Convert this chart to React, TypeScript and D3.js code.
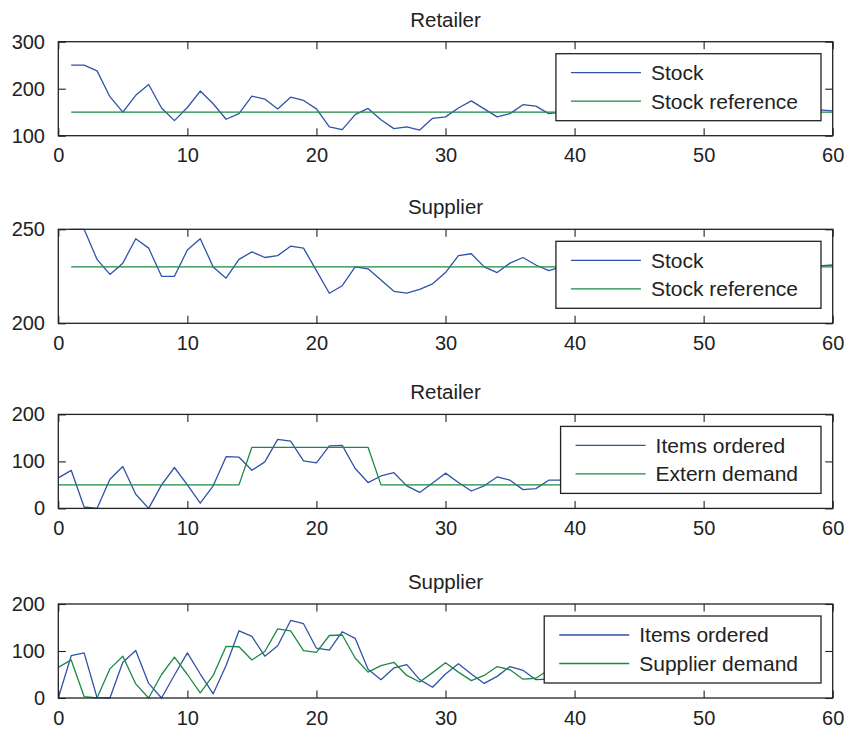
import * as d3 from 'd3';
import React, { useEffect, useRef } from 'react';

// time steps
const stepsFrom1 = d3.range(1, 61);
const stepsFrom0 = d3.range(0, 60);

// Retailer stock (steps 1..60)
const retailerStock = [
  250, 250, 238, 183, 150, 186, 209, 159, 132, 160, 195, 168, 135, 147, 184, 178, 157, 182, 175, 157,
  119, 113, 145, 158, 134, 115, 119, 112, 137, 140, 159, 174, 157, 140, 147, 166, 163, 147, 150, 155,
  157, 152, 147, 149, 154, 156, 151, 148, 150, 154, 153, 150, 149, 151, 153, 152, 150, 152, 155, 153,
];
const retailerRef = [
  150, 150, 150, 150, 150, 150, 150, 150, 150, 150, 150, 150, 150, 150, 150, 150, 150, 150, 150, 150,
  150, 150, 150, 150, 150, 150, 150, 150, 150, 150, 150, 150, 150, 150, 150, 150, 150, 150, 150, 150,
  150, 150, 150, 150, 150, 150, 150, 150, 150, 150, 150, 150, 150, 150, 150, 150, 150, 150, 150, 150,
];

// Supplier stock (steps 1..60)
const supplierStock = [
  250, 250, 234, 226, 232, 245, 240, 225, 225, 239, 245, 230, 224, 234, 238, 235, 236, 241, 240, 228,
  216, 220, 230, 229, 223, 217, 216, 218, 221, 227, 236, 237, 230, 227, 232, 235, 231, 228, 230, 233,
  234, 231, 228, 229, 232, 233, 231, 229, 230, 232, 232, 230, 229, 230, 231, 231, 230, 230, 230.5, 231,
];
const supplierRef = [
  230, 230, 230, 230, 230, 230, 230, 230, 230, 230, 230, 230, 230, 230, 230, 230, 230, 230, 230, 230,
  230, 230, 230, 230, 230, 230, 230, 230, 230, 230, 230, 230, 230, 230, 230, 230, 230, 230, 230, 230,
  230, 230, 230, 230, 230, 230, 230, 230, 230, 230, 230, 230, 230, 230, 230, 230, 230, 230, 230, 230,
];

// Retailer orders (steps 0..59)
const retailerOrders = [
  65, 81, 3, 0, 62, 89, 30, 0, 50, 87, 50, 11, 48, 110, 109, 81, 99, 147, 143, 101,
  97, 133, 134, 85, 55, 69, 76, 48, 34, 54, 75, 55, 37, 48, 67, 60, 40, 42, 60, 60,
  55, 48, 45, 52, 58, 56, 50, 47, 49, 53, 54, 51, 49, 49, 51, 52, 51, 50, 49, 50,
];
const externDemand = [
  50, 50, 50, 50, 50, 50, 50, 50, 50, 50, 50, 50, 50, 50, 50, 130, 130, 130, 130, 130,
  130, 130, 130, 130, 130, 50, 50, 50, 50, 50, 50, 50, 50, 50, 50, 50, 50, 50, 50, 50,
  50, 50, 50, 50, 50, 50, 50, 50, 50, 50, 50, 50, 50, 50, 50, 50, 50, 50, 50, 50,
];

// Supplier orders (steps 0..59); supplier demand equals the retailer's orders
const supplierOrders = [
  0, 90, 96, 1, 0, 76, 101, 31, 0, 49, 96, 51, 9, 69, 143, 131, 89, 111, 165, 158,
  106, 102, 141, 127, 61, 39, 64, 71, 39, 23, 51, 73, 51, 31, 46, 67, 59, 39, 40, 58,
  64, 54, 43, 46, 57, 60, 53, 46, 47, 53, 55, 51, 48, 49, 52, 52, 50, 49, 50, 51,
];
const supplierDemand = retailerOrders;

const xTicks = [0, 10, 20, 30, 40, 50, 60];

const BLUE = '#3152a8';
const GREEN = '#1b8a44';
const INK = '#222';

interface Series {
  label: string;
  color: string;
  xs: number[];
  ys: number[];
}

interface Panel {
  title: string;
  yDomain: [number, number];
  yTicks: number[];
  series: Series[];
}

const panels: Panel[] = [
  {
    title: 'Retailer',
    yDomain: [100, 300],
    yTicks: [100, 200, 300],
    series: [
      { label: 'Stock', color: BLUE, xs: stepsFrom1, ys: retailerStock },
      { label: 'Stock reference', color: GREEN, xs: stepsFrom1, ys: retailerRef },
    ],
  },
  {
    title: 'Supplier',
    yDomain: [200, 250],
    yTicks: [200, 250],
    series: [
      { label: 'Stock', color: BLUE, xs: stepsFrom1, ys: supplierStock },
      { label: 'Stock reference', color: GREEN, xs: stepsFrom1, ys: supplierRef },
    ],
  },
  {
    title: 'Retailer',
    yDomain: [0, 200],
    yTicks: [0, 100, 200],
    series: [
      { label: 'Items ordered', color: BLUE, xs: stepsFrom0, ys: retailerOrders },
      { label: 'Extern demand', color: GREEN, xs: stepsFrom0, ys: externDemand },
    ],
  },
  {
    title: 'Supplier',
    yDomain: [0, 200],
    yTicks: [0, 100, 200],
    series: [
      { label: 'Items ordered', color: BLUE, xs: stepsFrom0, ys: supplierOrders },
      { label: 'Supplier demand', color: GREEN, xs: stepsFrom0, ys: supplierDemand },
    ],
  },
];

const width = 848;
const height = 729;
const plotLeft = 58.3;
const plotRight = 832.7;
const panelTops = [41.7, 229.3, 414.4, 604];
const panelH = 94;
const FONT = '"Liberation Sans", Arial, Helvetica, sans-serif';

const App: React.FC = () => {
  const ref = useRef<SVGSVGElement>(null);

  useEffect(() => {
    if (!ref.current) return;
    const svg = d3.select(ref.current);
    svg.selectAll('*').remove();

    const x = d3.scaleLinear().domain([0, 60]).range([plotLeft, plotRight]);
    const tickLen = 7.5;

    panels.forEach((p, i) => {
      const top = panelTops[i];
      const bottom = top + panelH;
      const y = d3.scaleLinear().domain(p.yDomain).range([bottom, top]);
      const g = svg.append('g');

      const clipId = `clip-${i}`;
      g.append('clipPath')
        .attr('id', clipId)
        .append('rect')
        .attr('x', plotLeft)
        .attr('y', top - 1)
        .attr('width', plotRight - plotLeft)
        .attr('height', panelH + 2);

      g.append('text')
        .attr('x', (plotLeft + plotRight) / 2)
        .attr('y', top - 15)
        .attr('text-anchor', 'middle')
        .style('font-family', FONT)
        .style('font-size', '20.5px')
        .style('fill', INK)
        .text(p.title);

      // series lines
      p.series.forEach((s) => {
        const line = d3
          .line<number>()
          .x((_, j) => x(s.xs[j]))
          .y((d) => y(d));
        g.append('path')
          .datum(s.ys)
          .attr('clip-path', `url(#${clipId})`)
          .attr('d', line)
          .style('fill', 'none')
          .style('stroke', s.color)
          .style('stroke-width', 1.3)
          .style('stroke-linejoin', 'round');
      });

      // axes (ticks point inward, on all four sides)
      const styleAxis = (a: d3.Selection<SVGGElement, unknown, null, undefined>) => {
        a.select('.domain').remove();
        a.selectAll('line').style('stroke', INK).style('stroke-width', 1.1);
        a.selectAll('text').style('font-family', FONT).style('font-size', '20px').style('fill', INK);
      };

      g.append('g')
        .attr('transform', `translate(0,${bottom})`)
        .call(d3.axisBottom(x).tickValues(xTicks).tickSizeInner(-tickLen).tickSizeOuter(0).tickPadding(12.5))
        .call(styleAxis);
      g.append('g')
        .attr('transform', `translate(0,${top})`)
        .call(d3.axisTop(x).tickValues(xTicks).tickSizeInner(-tickLen).tickSizeOuter(0).tickFormat(() => ''))
        .call(styleAxis);
      g.append('g')
        .attr('transform', `translate(${plotLeft},0)`)
        .call(d3.axisLeft(y).tickValues(p.yTicks).tickSizeInner(-tickLen).tickSizeOuter(0).tickPadding(13.3))
        .call(styleAxis);
      g.append('g')
        .attr('transform', `translate(${plotRight},0)`)
        .call(d3.axisRight(y).tickValues(p.yTicks).tickSizeInner(-tickLen).tickSizeOuter(0).tickFormat(() => ''))
        .call(styleAxis);

      // legend
      const lg = g.append('g');
      const legTop = top + 12;
      const legH = 67;
      const rows = [19, 47.5];
      const texts = p.series.map((s, k) =>
        lg
          .append('text')
          .attr('y', legTop + rows[k])
          .attr('dy', '0.35em')
          .style('font-family', FONT)
          .style('font-size', '21px')
          .style('fill', INK)
          .text(s.label)
      );
      const maxW = d3.max(texts, (t) => (t.node() as SVGTextElement).getComputedTextLength()) || 140;
      const legRight = plotRight - 11.7;
      const legLeft = legRight - (15 + 70 + 10 + maxW + 23);
      texts.forEach((t) => t.attr('x', legLeft + 95));
      p.series.forEach((s, k) => {
        lg.append('line')
          .attr('x1', legLeft + 15)
          .attr('x2', legLeft + 85)
          .attr('y1', legTop + rows[k])
          .attr('y2', legTop + rows[k])
          .style('stroke', s.color)
          .style('stroke-width', 1.3);
      });
      lg.insert('rect', ':first-child')
        .attr('x', legLeft)
        .attr('y', legTop)
        .attr('width', legRight - legLeft)
        .attr('height', legH)
        .style('fill', '#fff')
        .style('stroke', INK)
        .style('stroke-width', 1.3);

      // frame
      g.append('rect')
        .attr('x', plotLeft)
        .attr('y', top)
        .attr('width', plotRight - plotLeft)
        .attr('height', panelH)
        .style('fill', 'none')
        .style('stroke', INK)
        .style('stroke-width', 1.3);
    });
  }, []);

  return (
    <svg
      ref={ref}
      width={width}
      height={height}
      viewBox={`0 0 ${width} ${height}`}
      style={{ position: 'absolute', left: 0, top: 0, background: '#fff' }}
    ></svg>
  );
};

export default App;
